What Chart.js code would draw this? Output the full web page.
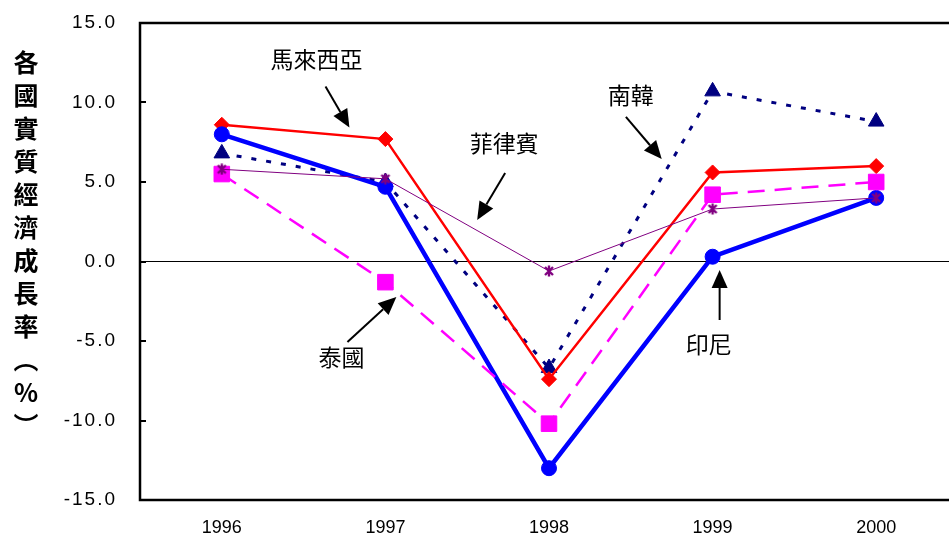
<!DOCTYPE html>
<html>
<head>
<meta charset="utf-8">
<script src="https://cdn.jsdelivr.net/npm/chart.js@4/dist/chart.umd.min.js"></script>
<style>
  html, body { margin: 0; padding: 0; background: #fff; overflow: hidden; }
  #wrap { width: 970px; height: 540px; }
</style>
</head>
<body>
<div id="wrap"><canvas id="c" width="970" height="540"></canvas></div>
<script>
// Real GDP growth (%), 1996-2000
const years = ['1996', '1997', '1998', '1999', '2000'];
const indonesia   = [8.0, 4.7, -13.0, 0.3, 4.0];
const malaysia    = [8.6, 7.7, -7.4, 5.6, 6.0];
const korea       = [6.8, 5.0, -6.7, 10.7, 8.8];
const thailand    = [5.5, -1.3, -10.2, 4.2, 5.0];
const philippines = [5.8, 5.2, -0.6, 3.3, 4.0];
const yTicks = [15, 10, 5, 0, -5, -10, -15];
const axisTitle = ['各', '國', '實', '質', '經', '濟', '成', '長', '率', '︵', '%', '︶'];

// Country callouts: label position, arrow tail and arrow tip in (category index, value)
const callouts = [
  { text: '馬來西亞', label: [0.579, 12.7],  tail: [0.634, 11.0],  tip: [0.780, 8.42] },
  { text: '菲律賓',   label: [1.726, 7.42],  tail: [1.732, 5.57],  tip: [1.561, 2.61] },
  { text: '南韓',     label: [2.500, 10.47], tail: [2.470, 9.09],  tip: [2.689, 6.45] },
  { text: '泰國',     label: [0.732, -6.01], tail: [0.768, -5.06], tip: [1.067, -2.23] },
  { text: '印尼',     label: [2.976, -5.19], tail: [3.043, -3.68], tip: [3.043, -0.53] }
];

// Asterisk-style marker (X with a vertical bar)
function makeStar(color) {
  const s = 12, cv = document.createElement('canvas');
  cv.width = s; cv.height = s;
  const g = cv.getContext('2d');
  g.strokeStyle = color; g.lineWidth = 2.4; g.lineCap = 'butt';
  g.beginPath();
  g.moveTo(2, 2); g.lineTo(10, 10);
  g.moveTo(10, 2); g.lineTo(2, 10);
  g.moveTo(6, 0.5); g.lineTo(6, 11.5);
  g.stroke();
  return cv;
}

const decor = {
  id: 'decor',
  afterDraw(chart) {
    const { ctx, chartArea: a, scales } = chart;
    const xs = scales.x, ys = scales.y;
    const px = i => xs.left + (xs.right - xs.left) * (i + 0.5) / years.length;
    ctx.save();

    // plot frame
    ctx.strokeStyle = '#000';
    ctx.lineWidth = 2.5;
    ctx.strokeRect(a.left, a.top, a.right - a.left, a.bottom - a.top);

    // inward tick marks
    ctx.lineWidth = 2;
    yTicks.forEach(v => {
      const py = Math.round(ys.getPixelForValue(v));
      ctx.beginPath(); ctx.moveTo(a.left, py); ctx.lineTo(a.left + 6, py); ctx.stroke();
    });

    // value labels
    ctx.fillStyle = '#000';
    ctx.font = '19px "Liberation Sans", Arial, sans-serif';
    ctx.letterSpacing = '2px';
    ctx.textAlign = 'right';
    ctx.textBaseline = 'middle';
    yTicks.forEach(v => ctx.fillText(v.toFixed(1), a.left - 23, ys.getPixelForValue(v)));
    ctx.letterSpacing = '0px';

    // vertical axis title
    ctx.font = 'bold 25px "Noto Sans CJK TC", sans-serif';
    ctx.textAlign = 'center';
    axisTitle.forEach((ch, i) => ctx.fillText(ch, 26, 62 + i * 33));

    // callouts
    ctx.font = '23px "Noto Sans CJK TC", sans-serif';
    ctx.lineWidth = 2;
    callouts.forEach(c => {
      ctx.fillText(c.text, px(c.label[0]), ys.getPixelForValue(c.label[1]));
      const x0 = px(c.tail[0]), y0 = ys.getPixelForValue(c.tail[1]);
      const x1 = px(c.tip[0]),  y1 = ys.getPixelForValue(c.tip[1]);
      const ang = Math.atan2(y1 - y0, x1 - x0);
      const hl = 18, hw = 8;
      const bx = x1 - hl * Math.cos(ang), by = y1 - hl * Math.sin(ang);
      ctx.beginPath(); ctx.moveTo(x0, y0); ctx.lineTo(bx, by); ctx.stroke();
      ctx.beginPath();
      ctx.moveTo(x1, y1);
      ctx.lineTo(bx + hw * Math.sin(ang), by - hw * Math.cos(ang));
      ctx.lineTo(bx - hw * Math.sin(ang), by + hw * Math.cos(ang));
      ctx.closePath(); ctx.fill();
    });
    ctx.restore();
  }
};

const series = (label, data, color, width, dash, style, radius) => ({
  label, data,
  borderColor: color, backgroundColor: color,
  borderWidth: width, borderDash: dash,
  pointStyle: style, pointRadius: radius, pointHoverRadius: radius,
  pointBackgroundColor: color, pointBorderColor: color, pointBorderWidth: 1,
  tension: 0, fill: false
});

new Chart(document.getElementById('c'), {
  type: 'line',
  data: {
    labels: years,
    // first dataset is drawn on top
    datasets: [
      series('菲律賓', philippines, '#800080', 1, [], makeStar('#800080'), 6),
      series('泰國', thailand, '#FF00FF', 2.5, [17, 10], 'rect', 11),
      series('印尼', indonesia, '#0000FF', 4.5, [], 'circle', 7.5),
      series('馬來西亞', malaysia, '#FF0000', 2.5, [], 'rectRot', 7.5),
      series('南韓', korea, '#000080', 3, [5, 10], 'triangle', 9)
    ]
  },
  options: {
    responsive: false,
    animation: false,
    events: [],
    layout: { padding: { left: 0, top: 23, right: 10, bottom: 0 } },
    plugins: { legend: { display: false }, tooltip: { enabled: false } },
    scales: {
      x: {
        offset: true,
        grid: { display: false, drawTicks: false },
        border: { display: false },
        ticks: { color: '#000', padding: 17, font: { family: '"Liberation Sans", Arial, sans-serif', size: 18 } },
        afterFit: s => { s.height = 40; }
      },
      y: {
        min: -15, max: 15,
        ticks: { display: false, stepSize: 5 },
        grid: {
          drawTicks: false,
          lineWidth: 1,
          color: c => (c.tick && c.tick.value === 0) ? '#000' : 'rgba(0,0,0,0)'
        },
        border: { display: false },
        afterFit: s => { s.width = 140; }
      }
    }
  },
  plugins: [decor]
});
</script>
</body>
</html>
